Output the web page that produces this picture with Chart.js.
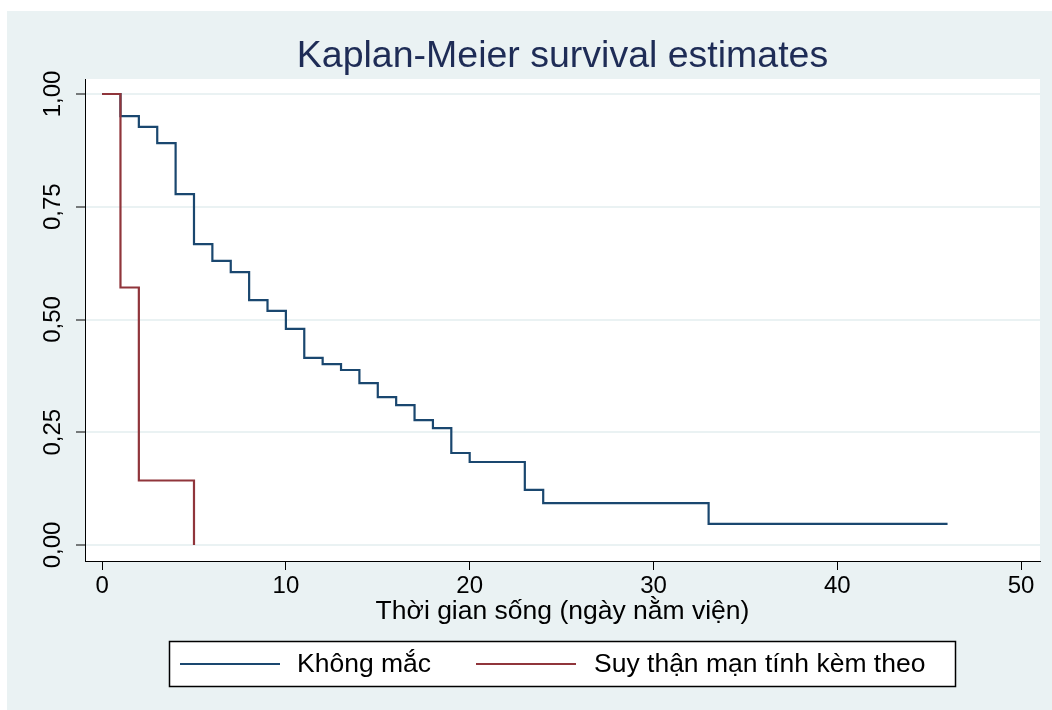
<!DOCTYPE html>
<html>
<head>
<meta charset="utf-8">
<script src="https://cdn.jsdelivr.net/npm/chart.js@4"></script>
<style>
  body { margin: 0; background: #fff; }
  canvas { display: block; }
</style>
</head>
<body>
<canvas id="km-canvas" width="1052" height="710"></canvas>
<script>
// survival steps
const timesKhongMac = [0, 1, 2, 3, 4, 5, 6, 7, 8, 9, 10, 11, 12, 13, 14, 15, 16, 17, 18, 19, 20, 23, 24, 33, 46]
const survKhongMac = [1, 0.951, 0.927, 0.891, 0.778, 0.667, 0.630, 0.605, 0.543, 0.519, 0.479, 0.415, 0.401, 0.388, 0.359, 0.328, 0.310, 0.277, 0.259, 0.204, 0.184, 0.122, 0.093, 0.047, 0.047]
const timesSuyThan = [0, 1, 2, 5]
const survSuyThan = [1, 0.571, 0.143, 0]

const seriesLabels = ['Không mắc', 'Suy thận mạn tính kèm theo']
const seriesColors = ['#1a476f', '#90353b']
const xTicks = [0, 10, 20, 30, 40, 50]
const yTicks = [0, 0.25, 0.5, 0.75, 1]

const FONT = "'Liberation Sans', Arial, sans-serif"
const BG = '#eaf2f3'

function toPoints(times, values) {
  return times.map((t, i) => ({ x: t, y: values[i] }))
}

const backdrop = {
  id: 'backdrop',
  beforeDraw(chart) {
    const { ctx, chartArea } = chart
    ctx.save()
    ctx.fillStyle = '#fff'
    ctx.fillRect(0, 0, chart.width, chart.height)
    ctx.fillStyle = BG
    ctx.fillRect(7, 11, chart.width - 7, chart.height - 11)
    ctx.fillStyle = '#fff'
    ctx.fillRect(chartArea.left, chartArea.top, chartArea.right - chartArea.left, chartArea.bottom - chartArea.top)
    ctx.restore()
  }
}

// Stata-like legend box below the axis title
const legendBox = {
  id: 'legendBox',
  afterDraw(chart) {
    const { ctx } = chart
    ctx.save()
    ctx.fillStyle = '#fff'
    ctx.fillRect(169, 641, 787, 46)
    ctx.strokeStyle = '#000'
    ctx.lineWidth = 1.5
    ctx.strokeRect(169.5, 641.5, 786, 45)
    const lineStarts = [180, 476]
    const textStarts = [297, 594]
    ctx.font = '26.5px ' + FONT
    ctx.textBaseline = 'middle'
    ctx.textAlign = 'left'
    seriesLabels.forEach((label, i) => {
      ctx.strokeStyle = seriesColors[i]
      ctx.lineWidth = 2
      ctx.beginPath()
      ctx.moveTo(lineStarts[i], 664)
      ctx.lineTo(lineStarts[i] + 100, 664)
      ctx.stroke()
      ctx.fillStyle = '#000'
      ctx.fillText(label, textStarts[i], 665)
    })
    ctx.restore()
  }
}

new Chart(document.getElementById('km-canvas'), {
  type: 'line',
  data: {
    datasets: [
      {
        label: seriesLabels[0],
        data: toPoints(timesKhongMac, survKhongMac),
        borderColor: seriesColors[0],
        borderWidth: 2.2,
        stepped: 'before',
        pointRadius: 0,
        fill: false,
        order: 2
      },
      {
        label: seriesLabels[1],
        data: toPoints(timesSuyThan, survSuyThan),
        borderColor: seriesColors[1],
        borderWidth: 2.2,
        stepped: 'before',
        pointRadius: 0,
        fill: false,
        order: 1
      }
    ]
  },
  options: {
    responsive: false,
    animation: false,
    layout: { padding: { top: 11, right: 12, bottom: 0, left: 0 } },
    plugins: {
      legend: { display: false },
      tooltip: { enabled: false },
      title: {
        display: true,
        fullSize: false,  // centre over the plot area like Stata
        text: 'Kaplan-Meier survival estimates',
        color: '#1e2c56',
        font: { family: FONT, size: 37.5, weight: 'normal', lineHeight: 1.2 },
        padding: { top: 23, bottom: 0 }
      }
    },
    scales: {
      x: {
        type: 'linear',
        min: -0.93,
        max: 51.03,
        afterBuildTicks(scale) { scale.ticks = xTicks.map(v => ({ value: v })) },
        afterFit(scale) { scale.height = 149 },
        ticks: {
          color: '#000',
          font: { family: FONT, size: 24 },
          padding: 2,
          maxRotation: 0,
          callback: v => String(v)
        },
        grid: { drawOnChartArea: false, tickColor: '#000', tickLength: 9, tickWidth: 1 },
        border: { color: '#000', width: 1 },
        title: {
          display: true,
          text: 'Thời gian sống (ngày nằm viện)',
          color: '#000',
          font: { family: FONT, size: 26.5, lineHeight: 1.2 },
          padding: { top: 0, bottom: 82 }
        }
      },
      y: {
        type: 'linear',
        min: -0.0355,
        max: 1.0333,
        afterBuildTicks(scale) { scale.ticks = yTicks.map(v => ({ value: v })) },
        afterFit(scale) { scale.width = 85 },
        ticks: {
          color: '#000',
          font: { family: FONT, size: 24 },
          padding: -1,
          minRotation: 90,
          maxRotation: 90,
          crossAlign: 'center',
          callback: v => v.toFixed(2).replace('.', ',')
        },
        grid: { color: BG, lineWidth: 2, tickColor: '#000', tickLength: 9, tickWidth: 1 },
        border: { color: '#000', width: 1 }
      }
    }
  },
  plugins: [backdrop, legendBox]
})
</script>
</body>
</html>
